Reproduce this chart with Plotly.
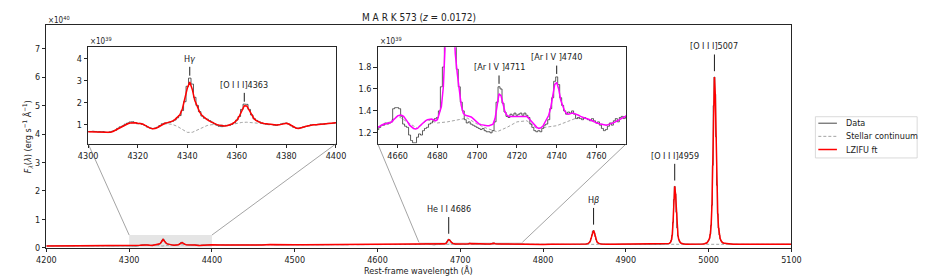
import plotly.graph_objects as go

W, H = 926, 278

# ---------------- data (flux of main panel in 1e40; insets in 1e39) ----------------
seg_a_wave = [4200, 4210, 4220, 4230, 4240, 4250, 4260, 4270, 4280, 4290]
seg_a_flux = [0.070, 0.071, 0.069, 0.067, 0.071, 0.070, 0.072, 0.073, 0.070, 0.071]

seg_c_wave = [4410, 4420, 4430, 4440, 4450, 4460, 4470, 4480, 4490, 4500, 4510, 4520,
              4530, 4540, 4550, 4560, 4570, 4580, 4590, 4600, 4610, 4620, 4630, 4640]
seg_c_flux = [0.105, 0.100, 0.102, 0.104, 0.102, 0.106, 0.116, 0.108, 0.108, 0.110, 0.111, 0.112,
              0.110, 0.113, 0.115, 0.113, 0.119, 0.116, 0.118, 0.118, 0.120, 0.119, 0.121, 0.123]

seg_e_wave = [4780, 4790, 4800, 4810, 4820, 4830, 4840, 4850, 4852, 4854, 4855, 4856, 4857, 4858,
              4859, 4860, 4861, 4862, 4863, 4864, 4865, 4866, 4867, 4868, 4870, 4873, 4877, 4885,
              4895, 4900, 4910, 4920, 4930, 4940, 4945, 4948, 4950, 4952, 4953, 4954, 4955, 4956,
              4957, 4958, 4959, 4960, 4961, 4962, 4963, 4964, 4965, 4966, 4967, 4968, 4970, 4973,
              4978, 4985, 4990, 4993, 4995, 4997, 4998, 4999, 5000, 5001, 5002, 5003, 5004, 5005,
              5006, 5007, 5008, 5009, 5010, 5011, 5012, 5013, 5014, 5015, 5016, 5017, 5019, 5022,
              5026, 5030, 5040, 5050, 5060, 5070, 5080, 5090, 5100]
seg_e_flux = [0.127, 0.125, 0.124, 0.126, 0.125, 0.124, 0.125, 0.128, 0.135, 0.150, 0.165, 0.190,
              0.240, 0.330, 0.460, 0.580, 0.610, 0.530, 0.400, 0.290, 0.220, 0.180, 0.160, 0.150,
              0.140, 0.132, 0.128, 0.127, 0.130, 0.128, 0.126, 0.127, 0.126, 0.127, 0.130, 0.135,
              0.140, 0.155, 0.170, 0.200, 0.280, 0.450, 0.900, 1.700, 2.160, 1.900, 1.250, 0.700,
              0.420, 0.290, 0.215, 0.180, 0.160, 0.150, 0.140, 0.132, 0.128, 0.127, 0.130, 0.135,
              0.145, 0.160, 0.180, 0.220, 0.260, 0.330, 0.480, 0.800, 1.500, 2.900, 5.000, 6.000,
              5.400, 3.900, 2.200, 1.200, 0.700, 0.450, 0.320, 0.250, 0.205, 0.180, 0.160, 0.145,
              0.135, 0.130, 0.125, 0.124, 0.125, 0.124, 0.125, 0.126, 0.126]

main_cont_wave = list(range(4200, 5101, 10))
main_cont = [0.070, 0.071, 0.069, 0.067, 0.071, 0.070, 0.072, 0.073, 0.070, 0.071,
             0.069, 0.070, 0.107, 0.102, 0.066, 0.101, 0.107, 0.106, 0.107, 0.099,
             0.109, 0.105, 0.100, 0.102, 0.104, 0.102, 0.106, 0.116, 0.108, 0.108,
             0.110, 0.111, 0.112, 0.110, 0.113, 0.115, 0.113, 0.119, 0.116, 0.118,
             0.118, 0.120, 0.119, 0.121, 0.123, 0.125, 0.1355, 0.124, 0.129, 0.132,
             0.128, 0.121, 0.130, 0.124, 0.1265, 0.1335, 0.129, 0.1305, 0.127, 0.125,
             0.124, 0.126, 0.125, 0.124, 0.125, 0.122, 0.115, 0.124, 0.127, 0.127,
             0.128, 0.126, 0.127, 0.126, 0.127, 0.124, 0.122, 0.124, 0.126, 0.125,
             0.122, 0.121, 0.124, 0.125, 0.125, 0.124, 0.125, 0.124, 0.125, 0.126,
             0.126]

inset1_wave = list(range(4300, 4401))
inset1_data = [0.70, 0.70, 0.71, 0.70, 0.68, 0.69, 0.69, 0.66, 0.65, 0.68,
               0.72, 0.75, 0.84, 0.91, 0.95, 1.03, 1.08, 1.13, 1.14, 1.10,
               1.05, 1.07, 1.02, 0.97, 0.90, 0.86, 0.83, 0.85, 0.89, 0.97,
               1.05, 1.08, 1.09, 1.12, 1.16, 1.22, 1.32, 1.42, 1.65, 2.05,
               2.75, 3.12, 2.85, 2.25, 1.88, 1.60, 1.40, 1.30, 1.26, 1.19,
               1.12, 1.04, 0.99, 0.93, 0.92, 0.95, 0.97, 0.98, 1.03, 1.10,
               1.22, 1.38, 1.70, 1.94, 1.93, 1.70, 1.45, 1.28, 1.20, 1.14,
               1.09, 1.05, 1.03, 1.01, 1.02, 0.99, 0.98, 1.01, 1.04, 1.07,
               1.08, 1.03, 0.96, 0.89, 0.86, 0.85, 0.87, 0.91, 0.93, 0.96,
               1.00, 1.01, 1.00, 1.03, 1.04, 1.03, 1.05, 1.07, 1.06, 1.08,
               1.10]
inset1_fit = [0.69, 0.69, 0.70, 0.70, 0.69, 0.69, 0.68, 0.67, 0.66, 0.66,
              0.70, 0.76, 0.83, 0.90, 0.96, 1.01, 1.05, 1.08, 1.10, 1.09,
              1.07, 1.06, 1.04, 0.98, 0.91, 0.85, 0.82, 0.83, 0.88, 0.95,
              1.02, 1.07, 1.10, 1.13, 1.17, 1.24, 1.33, 1.46, 1.72, 2.15,
              2.66, 2.94, 2.62, 2.12, 1.80, 1.58, 1.42, 1.32, 1.24, 1.17,
              1.11, 1.05, 1.01, 0.98, 0.96, 0.95, 0.96, 0.99, 1.04, 1.11,
              1.21, 1.40, 1.66, 1.87, 1.86, 1.65, 1.43, 1.27, 1.18, 1.12,
              1.08, 1.06, 1.04, 1.02, 1.01, 1.00, 0.99, 1.00, 1.03, 1.06,
              1.07, 1.04, 0.97, 0.90, 0.85, 0.84, 0.86, 0.90, 0.94, 0.97,
              0.99, 1.00, 1.01, 1.02, 1.03, 1.04, 1.05, 1.06, 1.07, 1.08,
              1.09]
inset1_cont_wave = list(range(4300, 4401, 2))
inset1_cont = [0.69, 0.70, 0.69, 0.68, 0.66, 0.70, 0.83, 0.96, 1.05, 1.10,
               1.07, 1.04, 0.91, 0.82, 0.88, 1.02, 1.05, 1.02, 0.93, 0.78,
               0.66, 0.66, 0.76, 0.88, 0.97, 1.01, 1.00, 0.98, 0.98, 1.02,
               1.07, 1.11, 1.12, 1.11, 1.09, 1.06, 1.04, 1.01, 0.99, 1.03,
               1.07, 0.97, 0.85, 0.86, 0.94, 0.99, 1.01, 1.03, 1.05, 1.07,
               1.09]

inset2_wave = list(range(4650, 4776))
inset2_data = [1.23, 1.25, 1.27, 1.27, 1.29, 1.28, 1.29, 1.30, 1.42, 1.43,
               1.43, 1.42, 1.35, 1.28, 1.26, 1.25, 1.18, 1.13, 1.11, 1.11,
               1.16, 1.19, 1.18, 1.22, 1.24, 1.25, 1.28, 1.29, 1.31, 1.33,
               1.34, 1.40, 1.62, 1.80, 2.30, 2.80, 3.00, 2.90, 2.40, 2.00,
               1.78, 1.62, 1.48, 1.40, 1.32, 1.29, 1.30, 1.28, 1.27, 1.26,
               1.25, 1.24, 1.23, 1.24, 1.22, 1.21, 1.21, 1.20, 1.22, 1.30,
               1.48, 1.62, 1.60, 1.47, 1.39, 1.35, 1.34, 1.37, 1.36, 1.38,
               1.36, 1.37, 1.38, 1.36, 1.38, 1.36, 1.34, 1.28, 1.25, 1.22,
               1.21, 1.22, 1.21, 1.24, 1.27, 1.28, 1.32, 1.42, 1.52, 1.67,
               1.71, 1.64, 1.52, 1.45, 1.40, 1.37, 1.39, 1.38, 1.40, 1.37,
               1.33, 1.34, 1.33, 1.32, 1.34, 1.33, 1.32, 1.31, 1.33, 1.31,
               1.29, 1.30, 1.27, 1.24, 1.22, 1.23, 1.26, 1.29, 1.27, 1.31,
               1.33, 1.30, 1.34, 1.35, 1.33, 1.34]
inset2_fit = [1.25, 1.26, 1.27, 1.28, 1.28, 1.29, 1.29, 1.30, 1.32, 1.34,
              1.355, 1.36, 1.36, 1.35, 1.33, 1.30, 1.27, 1.25, 1.24, 1.235,
              1.24, 1.26, 1.28, 1.295, 1.31, 1.32, 1.325, 1.325, 1.32, 1.31,
              1.32, 1.38, 1.44, 1.62, 1.98, 2.55, 2.90, 2.75, 2.25, 1.92,
              1.74, 1.58, 1.45, 1.38, 1.36, 1.355, 1.35, 1.345, 1.33, 1.31,
              1.29, 1.28, 1.275, 1.27, 1.265, 1.265, 1.265, 1.27, 1.28, 1.33,
              1.45, 1.555, 1.54, 1.45, 1.39, 1.36, 1.35, 1.35, 1.35, 1.355,
              1.355, 1.355, 1.355, 1.355, 1.355, 1.35, 1.33, 1.31, 1.29, 1.27,
              1.25, 1.24, 1.245, 1.26, 1.29, 1.33, 1.36, 1.43, 1.54, 1.64,
              1.66, 1.60, 1.50, 1.44, 1.40, 1.375, 1.37, 1.375, 1.38, 1.375,
              1.37, 1.36, 1.35, 1.34, 1.335, 1.33, 1.325, 1.32, 1.31, 1.30,
              1.29, 1.285, 1.28, 1.275, 1.27, 1.27, 1.275, 1.28, 1.29, 1.295,
              1.305, 1.315, 1.325, 1.335, 1.345, 1.355]
inset2_cont_wave = list(range(4650, 4776, 5))
inset2_cont = [1.25, 1.29, 1.355, 1.30, 1.24, 1.32, 1.29, 1.30, 1.32, 1.335,
               1.28, 1.24, 1.21, 1.25, 1.30, 1.31, 1.24, 1.25, 1.265, 1.30,
               1.335, 1.33, 1.29, 1.27, 1.305, 1.355]

main_labels = ["He I I 4686", "H<i>β</i>", "[O I I I]4959", "[O I I I]5007"]
main_label_wave = [4686, 4861, 4959, 5007]
inset1_labels = ["H<i>γ</i>", "[O I I I]4363"]
inset1_label_wave = [4341, 4363]
inset2_labels = ["[Ar I V ]4711", "[Ar I V ]4740"]
inset2_label_wave = [4711, 4740]

legend_names = ["Data", "Stellar continuum", "LZIFU ft"]

# ---------------- assemble main spectrum ----------------
main_wave = seg_a_wave + inset1_wave + seg_c_wave + inset2_wave + seg_e_wave
main_fit = (seg_a_flux + [v / 10 for v in inset1_fit] + seg_c_flux
            + [v / 10 for v in inset2_fit] + seg_e_flux)
main_data = (seg_a_flux + [v / 10 for v in inset1_data] + seg_c_flux
             + [v / 10 for v in inset2_data] + seg_e_flux)

# ---------------- layout geometry (pixels) ----------------
def px_x(p):
    return p / W

def px_y(p):
    return 1 - p / H

MX0, MX1, MYT, MYB = 29, 790.5, 17.3, 244.3
I1X0, I1X1 = 71.7, 325.0
I2X0, I2X1 = 367.7, 621.7
IYT, IYB = 40.0, 138.3

main_xr = [4200, 5100]
main_yr = [0, 7.83]
in1_xr = [4300, 4400]
in1_yr = [0.14, 4.52]
in2_xr = [4650, 4775]
in2_yr = [1.10, 1.98]

FONT = "DejaVu Sans Condensed, DejaVu Sans, sans-serif"
AX = "#262626"
DATA_C = "#333333"
CONT_C = "#9a9a9a"

fig = go.Figure()

def data_trace(x, y, xa, ya):
    return go.Scatter(x=x, y=y, mode="lines", xaxis=xa, yaxis=ya, showlegend=False,
                      line=dict(color=DATA_C, width=0.8, shape="hvh"), hoverinfo="skip")

def cont_trace(x, y, xa, ya):
    return go.Scatter(x=x, y=y, mode="lines", xaxis=xa, yaxis=ya, showlegend=False,
                      line=dict(color=CONT_C, width=0.9, dash="3px,2px"), hoverinfo="skip")

def fit_trace(x, y, xa, ya, color):
    return go.Scatter(x=x, y=y, mode="lines", xaxis=xa, yaxis=ya, showlegend=False,
                      line=dict(color=color, width=1.5), hoverinfo="skip")

fig.add_trace(data_trace(main_wave, main_data, "x", "y"))
fig.add_trace(cont_trace(main_cont_wave, main_cont, "x", "y"))
fig.add_trace(fit_trace(main_wave, main_fit, "x", "y", "#ff0000"))

fig.add_trace(cont_trace(inset1_cont_wave, inset1_cont, "x2", "y2"))
fig.add_trace(data_trace(inset1_wave, inset1_data, "x2", "y2"))
fig.add_trace(fit_trace(inset1_wave, inset1_fit, "x2", "y2", "#ff0000"))

fig.add_trace(cont_trace(inset2_cont_wave, inset2_cont, "x3", "y3"))
fig.add_trace(data_trace(inset2_wave, inset2_data, "x3", "y3"))
fig.add_trace(fit_trace(inset2_wave, inset2_fit, "x3", "y3", "#ff00ff"))

axis_common = dict(showline=True, mirror=True, linecolor=AX, linewidth=1,
                   ticks="outside", ticklen=3.5, tickwidth=0.8, tickcolor=AX,
                   showgrid=False, zeroline=False, fixedrange=True,
                   tickfont=dict(family=FONT, size=9, color="#222"))

fig.update_layout(
    width=W, height=H, margin=dict(l=0, r=0, t=0, b=0),
    paper_bgcolor="white", plot_bgcolor="white", showlegend=False,
    font=dict(family=FONT, size=9, color="#222"),
    xaxis=dict(domain=[px_x(MX0), px_x(MX1)], range=main_xr, anchor="y",
               tickvals=list(range(4200, 5101, 100)), **axis_common),
    yaxis=dict(domain=[px_y(MYB), px_y(MYT)], range=main_yr, anchor="x",
               tickvals=list(range(0, 8)), **axis_common),
    xaxis2=dict(domain=[px_x(I1X0), px_x(I1X1)], range=in1_xr, anchor="y2",
                tickvals=list(range(4300, 4401, 20)), **axis_common),
    yaxis2=dict(domain=[px_y(IYB), px_y(IYT)], range=in1_yr, anchor="x2",
                tickvals=[1, 2, 3, 4], **axis_common),
    xaxis3=dict(domain=[px_x(I2X0), px_x(I2X1)], range=in2_xr, anchor="y3",
                tickvals=list(range(4660, 4761, 20)), **axis_common),
    yaxis3=dict(domain=[px_y(IYB), px_y(IYT)], range=in2_yr, anchor="x3",
                tickvals=[1.2, 1.4, 1.6, 1.8], tickformat=".1f", **axis_common),
)

shapes = []
annotations = []

# inset indicator rectangles on main axes
for xr, yr in ((in1_xr, in1_yr), (in2_xr, in2_yr)):
    shapes.append(dict(type="rect", xref="x", yref="y", x0=xr[0], x1=xr[1],
                       y0=yr[0] / 10, y1=yr[1] / 10, fillcolor="#e5e5e5",
                       line=dict(width=0), layer="below"))

# connector lines to inset corners
def main_x_of_px(p):
    return main_xr[0] + (p - MX0) / (MX1 - MX0) * (main_xr[1] - main_xr[0])

def main_y_of_px(p):
    return main_yr[0] + (MYB - p) / (MYB - MYT) * (main_yr[1] - main_yr[0])

for xr, yr, (cx0, cx1) in ((in1_xr, in1_yr, (I1X0, I1X1)), (in2_xr, in2_yr, (I2X0, I2X1))):
    for xv, cx in ((xr[0], cx0), (xr[1], cx1)):
        shapes.append(dict(type="line", xref="x", yref="y", x0=xv, y0=yr[1] / 10,
                           x1=main_x_of_px(cx), y1=main_y_of_px(IYB),
                           line=dict(color="#666", width=0.6)))

# line labels
def add_labels(names, waves, wl, fl, xref, yref, yr, dom_px, gap, length, tshift, fsize):
    ppu = dom_px / (yr[1] - yr[0])
    for name, lam in zip(names, waves):
        peak = max(f for w, f in zip(wl, fl) if abs(w - lam) <= 3)
        y0 = peak + gap / ppu
        y1 = y0 + length / ppu
        shapes.append(dict(type="line", xref=xref, yref=yref, x0=lam, x1=lam, y0=y0, y1=y1,
                           line=dict(color="black", width=0.9)))
        annotations.append(dict(x=lam, y=y1, xref=xref, yref=yref, text=name, showarrow=False,
                                xanchor="center", yanchor="middle", yshift=tshift,
                                font=dict(family=FONT, size=fsize, color="#222")))

add_labels(main_labels, main_label_wave, main_wave, main_fit, "x", "y", main_yr,
           MYB - MYT, 6, 17, 8, 9)
add_labels(inset1_labels, inset1_label_wave, inset1_wave, inset1_data, "x2", "y2", in1_yr,
           IYB - IYT, 2.5, 9, 8, 9)
add_labels(inset2_labels, inset2_label_wave, inset2_wave, inset2_data, "x3", "y3", in2_yr,
           IYB - IYT, 3, 8.5, 8.5, 9)

# title, axis labels, multipliers
annotations.append(dict(x=px_x((MX0 + MX1) / 2), y=px_y(10), xref="paper", yref="paper",
                        text="M A R K 573 (<i>z</i> = 0.0172)", showarrow=False,
                        xanchor="center", yanchor="middle",
                        font=dict(family=FONT, size=10, color="#222")))
annotations.append(dict(x=px_x((MX0 + MX1) / 2), y=px_y(267), xref="paper", yref="paper",
                        text="Rest-frame wavelength (Å)", showarrow=False,
                        xanchor="center", yanchor="middle",
                        font=dict(family=FONT, size=9, color="#222")))
annotations.append(dict(x=px_x(10), y=px_y((MYT + MYB) / 2), xref="paper", yref="paper",
                        text="<i>F</i><sub><i>λ</i></sub>(<i>λ</i>) (erg s<sup>−1</sup> Å<sup>−1</sup>)",
                        showarrow=False, textangle=-90, xanchor="center", yanchor="middle",
                        font=dict(family=FONT, size=9, color="#222")))
for xp, yp, txt in ((MX0, 12, "×10<sup>40</sup>"), (I1X0, 34, "×10<sup>39</sup>"),
                    (I2X0, 34, "×10<sup>39</sup>")):
    annotations.append(dict(x=px_x(xp), y=px_y(yp), xref="paper", yref="paper", text=txt,
                            showarrow=False, xanchor="left", yanchor="middle",
                            font=dict(family=FONT, size=8, color="#222")))

# legend (drawn manually)
LX0, LX1, LYT, LYB = 815, 919, 110.7, 152.7
shapes.append(dict(type="rect", xref="paper", yref="paper", x0=px_x(LX0), x1=px_x(LX1),
                   y0=px_y(LYB), y1=px_y(LYT), fillcolor="white",
                   line=dict(color="#d0d0d0", width=0.8)))
leg_styles = [dict(color=DATA_C, width=0.9), dict(color=CONT_C, width=0.9, dash="3px,2px"),
              dict(color="#ff0000", width=1.5)]
for i, (name, st) in enumerate(zip(legend_names, leg_styles)):
    yy = 117.3 + i * 13.4
    shapes.append(dict(type="line", xref="paper", yref="paper", x0=px_x(818), x1=px_x(837),
                       y0=px_y(yy), y1=px_y(yy), line=st))
    annotations.append(dict(x=px_x(844), y=px_y(yy), xref="paper", yref="paper", text=name,
                            showarrow=False, xanchor="left", yanchor="middle",
                            font=dict(family=FONT, size=9, color="#222")))

fig.update_layout(shapes=shapes, annotations=annotations)
fig.write_html("out.html")
